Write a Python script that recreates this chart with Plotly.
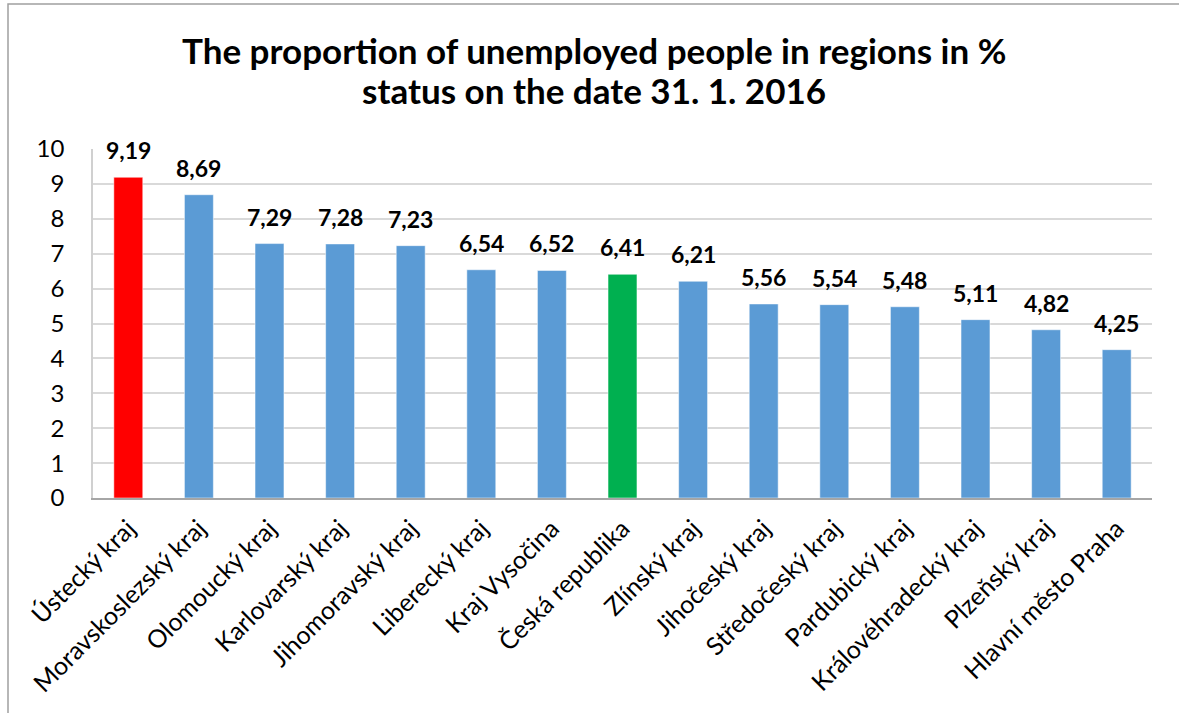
import plotly.graph_objects as go

# Registered unemployment share by region, 31 Jan 2016
regions = [
    "Ústecký kraj", "Moravskoslezský kraj", "Olomoucký kraj", "Karlovarský kraj",
    "Jihomoravský kraj", "Liberecký kraj", "Kraj Vysočina", "Česká republika",
    "Zlínský kraj", "Jihočeský kraj", "Středočeský kraj", "Pardubický kraj",
    "Královéhradecký kraj", "Plzeňský kraj", "Hlavní město Praha",
]
share_pct = [9.19, 8.69, 7.29, 7.28, 7.23, 6.54, 6.52, 6.41, 6.21, 5.56, 5.54, 5.48, 5.11, 4.82, 4.25]
y_ticks = [0, 1, 2, 3, 4, 5, 6, 7, 8, 9, 10]
title_lines = [
    "The proportion of unemployed people in regions in %",
    "status on the date 31. 1. 2016",
]

BLUE = "#5b9bd5"
RED = "#ff0000"
GREEN = "#00b050"

bar_colors = []
for name in regions:
    if name == "Česká republika":
        bar_colors.append(GREEN)
    elif name == "Ústecký kraj":
        bar_colors.append(RED)
    else:
        bar_colors.append(BLUE)

FONT = "Lato"

fig = go.Figure(
    go.Bar(
        x=regions,
        y=share_pct,
        marker=dict(color=bar_colors, line=dict(color="rgba(255,255,255,0.5)", width=1)),
        hoverinfo="x+y",
    )
)

W, H = 1179, 713
L, R, T, B = 93, 27, 149, 215
pw, ph = W - L - R, H - T - B

def px_to_paper_x(px):
    return (px - L) / pw

def px_to_paper_y(py):
    return (H - B - py) / ph

# value labels above each bar, decimal comma
value_labels = [
    dict(
        x=name,
        y=val,
        text=f"{val:.2f}".replace(".", ","),
        showarrow=False,
        xanchor="center",
        yanchor="bottom",
        yshift=11,
        font=dict(family=FONT, size=23, color="#000000", weight="bold"),
    )
    for name, val in zip(regions, share_pct)
]

# two-line heading, each line placed separately for tight line spacing
title_anns = [
    dict(
        text=line,
        xref="paper",
        yref="paper",
        x=px_to_paper_x(594),
        y=px_to_paper_y(top_px),
        xanchor="center",
        yanchor="top",
        showarrow=False,
        font=dict(family=FONT, size=35, color="#000000", weight="bold"),
    )
    for line, top_px in zip(title_lines, [27, 67])
]

fig.update_layout(
    width=W,
    height=H,
    margin=dict(l=L, r=R, t=T, b=B, pad=0),
    paper_bgcolor="#ffffff",
    plot_bgcolor="#ffffff",
    bargap=0.59,
    showlegend=False,
    font=dict(family=FONT, color="#000000"),
    annotations=title_anns + value_labels,
    xaxis=dict(
        type="category",
        tickangle=-45,
        tickfont=dict(family=FONT, size=25, color="#000000"),
        showgrid=False,
        showline=True,
        linecolor="#a6a6a6",
        linewidth=2,
        ticks="",
        ticklabelstandoff=4,
    ),
    yaxis=dict(
        range=[0, 10],
        tickvals=y_ticks,
        tickfont=dict(family=FONT, size=24, color="#000000"),
        showgrid=True,
        gridcolor="#d9d9d9",
        gridwidth=1.5,
        zeroline=False,
        showline=True,
        linecolor="#d0d0d0",
        linewidth=1.5,
        ticks="",
        ticklabelstandoff=22,
    ),
    shapes=[
        # outer frame of the chart box
        dict(
            type="path",
            xref="paper",
            yref="paper",
            path=(
                f"M {px_to_paper_x(8)},{px_to_paper_y(H + 5)} "
                f"L {px_to_paper_x(8)},{px_to_paper_y(4)} "
                f"L {px_to_paper_x(W + 5)},{px_to_paper_y(4)}"
            ),
            line=dict(color="#a0a0a0", width=1.5),
            layer="below",
        )
    ],
)

fig.write_html("out.html")
